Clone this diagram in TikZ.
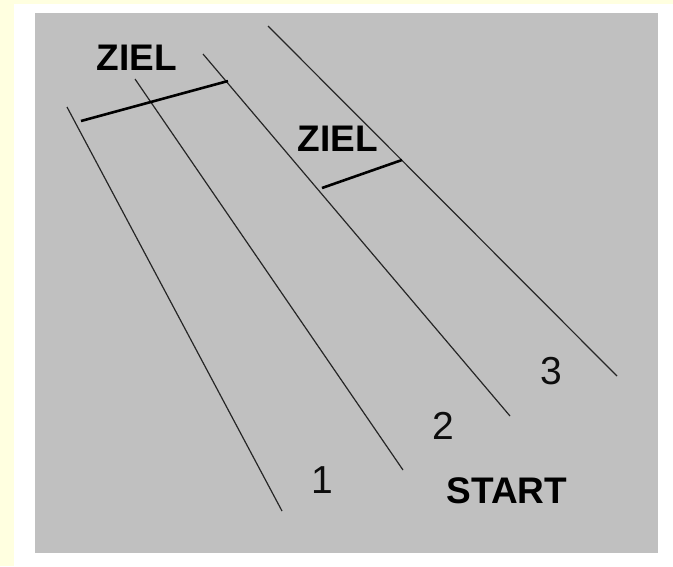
\documentclass[tikz,border=0pt]{standalone}
\usepackage{fontspec}
\setmainfont{Liberation Sans}
\begin{document}
\begin{tikzpicture}[x=1pt,y=-1pt,
  lane/.style={draw=black!85,line width=1.2pt},
  finish/.style={draw=black,line width=2.6pt},
  boldlabel/.style={font=\fontsize{37}{44}\selectfont\bfseries,text=black,inner sep=0pt},
  numlabel/.style={font=\fontsize{39}{44}\selectfont,text=black!95,inner sep=0pt}]
  \definecolor{pagebg}{HTML}{FFFFE0}
  \definecolor{panel}{HTML}{C0C0C0}
  \useasboundingbox (0,0) rectangle (673,566);
  % page background and frame
  \fill[white] (0,0) rectangle (673,566);
  \fill[pagebg] (0,0) rectangle (14,566);
  \fill[pagebg] (0,0) rectangle (673,3.5);
  \fill[panel] (35,13) rectangle (658,553);
  % lane lines
  \coordinate (l1a) at (67,107);  \coordinate (l1b) at (282,511);
  \coordinate (l2a) at (135,79);  \coordinate (l2b) at (403,470);
  \coordinate (l3a) at (203,54);  \coordinate (l3b) at (510,416);
  \coordinate (l4a) at (268,26);  \coordinate (l4b) at (617,376);
  \draw[lane] (l1a) -- (l1b);
  \draw[lane] (l2a) -- (l2b);
  \draw[lane] (l3a) -- (l3b);
  \draw[lane] (l4a) -- (l4b);
  % finish lines
  \coordinate (f1a) at (81,121); \coordinate (f1b) at (228,81);
  \coordinate (f2a) at (322,188); \coordinate (f2b) at (402,160);
  \draw[finish] (f1a) -- (f1b);
  \draw[finish] (f2a) -- (f2b);
  % labels
  \node[boldlabel] (ziel1) at (137,58) {ZIEL};
  \node[boldlabel] (ziel2) at (338,139) {ZIEL};
  \node[boldlabel] (start) at (507,491) {START};
  \node[numlabel] (n1) at (322,480) {1};
  \node[numlabel] (n2) at (443,426) {2};
  \node[numlabel] (n3) at (551,371) {3};
\end{tikzpicture}
\end{document}
